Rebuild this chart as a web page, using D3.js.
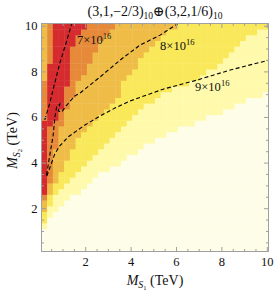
<!DOCTYPE html>
<meta charset="utf-8">
<style>
  body { margin: 0; background: #fff; }
  text { font-family: "Liberation Serif", "DejaVu Serif", serif; fill: #111; }
  .frame { fill: none; stroke: #a0a0a0; stroke-width: 1px; }
  .axis path { display: none; }
  .axis line { stroke: #a0a0a0; }
  .axis text { font-family: "Liberation Serif", serif; font-size: 12.5px; fill: #111; }
  .contour { fill: none; stroke: #000; stroke-width: 1.1px; stroke-dasharray: 4, 2.5; }
</style>

<body>
  <script src="https://cdn.jsdelivr.net/npm/d3@7"></script>
  <script>

    // colour levels, light to dark
    var levelColors = ["#fdfde8", "#fffaab", "#f9e85a", "#efbd47", "#e68a3a", "#d52b2f"];

    // per column of the 40x40 grid: first row (from bottom) reaching each level
    var paleFrom = [4, 6, 7, 8, 9, 10, 10, 11, 12, 13, 14, 14, 15, 15, 16, 17, 17, 18, 19, 19, 20, 20, 21, 21, 22, 22, 22, 23, 23, 24, 24, 24, 25, 25, 26, 26, 27, 27, 27, 28];
    var yellowFrom = [5, 8, 10, 11, 12, 13, 14, 15, 16, 17, 18, 19, 20, 21, 22, 23, 24, 25, 26, 26, 27, 28, 28, 29, 29, 29, 30, 30, 31, 32, 32, 33, 34, 35, 36, 37, 38, 38, 39, 39];
    var goldFrom = [7, 10, 12, 14, 16, 18, 20, 21, 22, 23, 24, 25, 26, 27, 30, 31, 32, 34, 35, 36, 37, 38, 39, 39, 40, 40, 40, 40, 40, 40, 40, 40, 40, 40, 40, 40, 40, 40, 40, 40];
    var orangeFrom = [9, 12, 18, 22, 25, 27, 30, 31, 33, 35, 37, 38, 39, 40, 40, 40, 40, 40, 40, 40, 40, 40, 40, 40, 40, 40, 40, 40, 40, 40, 40, 40, 40, 40, 40, 40, 40, 40, 40, 40];
    var redFrom = [10, 22, 23, 25, 29, 36, 38, 39, 40, 40, 40, 40, 40, 40, 40, 40, 40, 40, 40, 40, 40, 40, 40, 40, 40, 40, 40, 40, 40, 40, 40, 40, 40, 40, 40, 40, 40, 40, 40, 40];
    // top-left corner: the red band ends and orange / gold return above it
    var redTo = [22, 32];
    var orangeTo = [29, 39];

    // contours (M_S1, M_S2) in TeV
    var contour7 = [[0.22, 5.87], [0.44, 6.61], [0.66, 7.49], [0.88, 8.36], [1.10, 9.06], [1.41, 10.1]];
    var contour8 = [[0.30, 3.46], [0.44, 4.33], [0.59, 5.21], [0.66, 5.95], [0.74, 6.44], [0.88, 6.57], [0.82, 6.26], [0.97, 6.22],
    [1.15, 6.48], [1.54, 6.92], [1.77, 7.05], [2.65, 7.75], [3.53, 8.49], [4.41, 9.15], [5.30, 9.59], [6.09, 10.1]];
    var contour9 = [[0.31, 3.41], [0.49, 3.90], [0.66, 4.38], [0.88, 4.73], [1.24, 5.12], [1.99, 5.65], [2.74, 6.09], [3.31, 6.39],
    [3.97, 6.70], [5.43, 7.22], [6.93, 7.62], [8.39, 8.06], [10.075, 8.49]];
    var contourLabels = [{ x: 1.64, y: 9.22, m: "7" }, { x: 5.30, y: 8.95, m: "8" }, { x: 6.84, y: 7.16, m: "9" }];

    var majorTicks = [2, 4, 6, 8, 10];
    var minorTicks = [0.5, 1, 1.5, 2.5, 3, 3.5, 4.5, 5, 5.5, 6.5, 7, 7.5, 8.5, 9, 9.5];

    var margin = { top: 23.5, right: 5.5, bottom: 44.5, left: 41.5 },
      width = 274 - margin.left - margin.right,
      height = 296 - margin.top - margin.bottom;

    var x = d3.scaleLinear().domain([0.075, 10.075]).range([0, width]);
    var y = d3.scaleLinear().domain([0.1, 10.1]).range([height, 0]);

    var svg = d3.select("body").append("svg")
      .attr("width", 274)
      .attr("height", 296);

    var g = svg.append("g")
      .attr("transform", "translate(" + margin.left + "," + margin.top + ")");

    g.append("clipPath").attr("id", "clip")
      .append("rect").attr("width", width).attr("height", height);

    function level(i, j) {
      if (j < paleFrom[i]) return 0;
      if (j < yellowFrom[i]) return 1;
      if (j < goldFrom[i]) return 2;
      if (j < orangeFrom[i]) return 3;
      if (j < redFrom[i]) return 4;
      if (i >= redTo.length || j <= redTo[i]) return 5;
      if (j <= orangeTo[i]) return 4;
      return 3;
    }

    var cells = [];
    d3.range(40).forEach(function (i) {
      d3.range(40).forEach(function (j) {
        cells.push({ m1: 0.2 + 0.25 * i, m2: 0.225 + 0.25 * j, lev: level(i, j) });
      });
    });

    g.append("g").attr("clip-path", "url(#clip)")
      .selectAll("rect").data(cells).enter().append("rect")
      .attr("x", d => x(d.m1 - 0.125))
      .attr("y", d => y(d.m2 + 0.125))
      .attr("width", x(0.25) - x(0) + 0.4)
      .attr("height", y(0) - y(0.25) + 0.4)
      .attr("fill", d => levelColors[d.lev]);

    var line = d3.line().x(d => x(d[0])).y(d => y(d[1]));
    var lines = g.append("g").attr("clip-path", "url(#clip)");
    [contour7, contour8, contour9].forEach(function (c) {
      lines.append("path").datum(c).attr("class", "contour").attr("d", line);
    });

    var lab = g.selectAll(".clabel").data(contourLabels).enter().append("text")
      .attr("class", "clabel")
      .attr("x", d => x(d.x))
      .attr("y", d => y(d.y))
      .style("font-size", "12.5px");
    lab.append("tspan").text(d => d.m + "\u00d710");
    lab.append("tspan").attr("dy", -5).style("font-size", "8.5px").text("16");

    // axes with inward ticks on all sides
    function addAxis(axis, tr, pad) {
      var a = g.append("g").attr("class", "axis").attr("transform", tr);
      a.call(axis.tickValues(majorTicks).tickSize(-4.5).tickPadding(pad || 0));
      if (!pad) a.selectAll("text").remove();
      return a;
    }
    addAxis(d3.axisBottom(x), "translate(0," + height + ")", 6);
    addAxis(d3.axisLeft(y), null, 4);
    addAxis(d3.axisTop(x), null, 0);
    addAxis(d3.axisRight(y), "translate(" + width + ",0)", 0);

    [[d3.axisBottom(x), "translate(0," + height + ")"], [d3.axisLeft(y), null],
    [d3.axisTop(x), null], [d3.axisRight(y), "translate(" + width + ",0)"]].forEach(function (p) {
      g.append("g").attr("class", "axis").attr("transform", p[1])
        .call(p[0].tickValues(minorTicks).tickSize(-2.5).tickFormat(""));
    });

    g.append("rect").attr("class", "frame").attr("width", width).attr("height", height);

    // title
    var title = svg.append("text")
      .attr("x", margin.left + width / 2).attr("y", 15.5)
      .attr("text-anchor", "middle").style("font-size", "14px");
    title.append("tspan").text("(3,1,\u22122/3)");
    title.append("tspan").attr("dy", 3).style("font-size", "9.5px").text("10");
    title.append("tspan").attr("dy", -3).text("\u2295(3,2,1/6)");
    title.append("tspan").attr("dy", 3).style("font-size", "9.5px").text("10");

    // x label
    var xl = svg.append("text")
      .attr("x", margin.left + width / 2).attr("y", 285)
      .attr("text-anchor", "middle").style("font-size", "14px");
    xl.append("tspan").style("font-style", "italic").text("M");
    xl.append("tspan").attr("dy", 3).style("font-style", "italic").style("font-size", "10px").text("S");
    xl.append("tspan").attr("dy", 2).style("font-size", "6.5px").text("1");
    xl.append("tspan").attr("dy", -5).text(" (TeV)");

    // y label
    var yl = svg.append("text")
      .attr("transform", "translate(17," + (margin.top + height / 2 + 3) + ") rotate(-90)")
      .attr("text-anchor", "middle").style("font-size", "14px");
    yl.append("tspan").style("font-style", "italic").text("M");
    yl.append("tspan").attr("dy", 3).style("font-style", "italic").style("font-size", "10px").text("S");
    yl.append("tspan").attr("dy", 2).style("font-size", "6.5px").text("2");
    yl.append("tspan").attr("dy", -5).text(" (TeV)");
  </script>
</body>
